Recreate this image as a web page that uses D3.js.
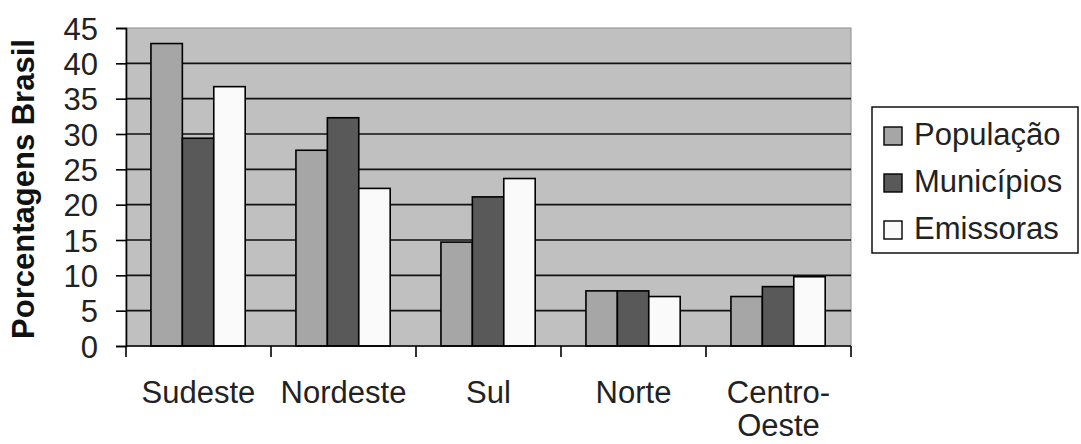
<!DOCTYPE html>
<html><head><meta charset="utf-8">
<script src="https://cdn.jsdelivr.net/npm/d3@7"></script>
<style>
html,body{margin:0;padding:0;background:#fff;}
svg{display:block;font-family:"Liberation Sans",Arial,sans-serif;}
</style></head>
<body><svg id="chart" width="1081" height="444"></svg>
<script>
const categories = ["Sudeste","Nordeste","Sul","Norte","Centro-Oeste"];
const categoryLines = [["Sudeste"],["Nordeste"],["Sul"],["Norte"],["Centro-","Oeste"]];
const seriesNames = ["População","Municípios","Emissoras"];
const populacao = [42.8, 27.7, 14.7, 7.8, 7.0];
const municipios = [29.4, 32.3, 21.1, 7.8, 8.4];
const emissoras = [36.7, 22.3, 23.7, 7.0, 9.8];
const yTicks = [0,5,10,15,20,25,30,35,40,45];
const yTitle = "Porcentagens Brasil";

const seriesValues = [populacao, municipios, emissoras];
const colors = ["#a6a6a6","#595959","#fafafa"];
const FS = 31;

const svg = d3.select("#chart");
const L = 126, R = 851, T = 28, B = 346;

const x0 = d3.scaleBand().domain(categories).range([L, R]).padding(0);
const bw = x0.bandwidth();
const x1 = d3.scaleBand().domain(seriesNames).range([bw*0.172, bw*0.822]).padding(0);
const y = d3.scaleLinear().domain([0,45]).range([B, T]);

// plot background
svg.append("rect").attr("x", L).attr("y", T).attr("width", R-L).attr("height", B-T)
  .attr("fill", "#c0c0c0").attr("stroke", "#9a9a9a").attr("stroke-width", 1.2);

// gridlines
svg.append("g").selectAll("line").data(yTicks.filter(d => d > 0 && d < 45)).join("line")
  .attr("x1", L).attr("x2", R).attr("y1", d => y(d)).attr("y2", d => y(d))
  .attr("stroke", "#111").attr("stroke-width", 1.6);

// bars
const rows = categories.map((c,i) => ({cat: c, vals: seriesNames.map((s,j) => ({s, j, v: seriesValues[j][i]}))}));
const g = svg.append("g").selectAll("g").data(rows).join("g")
  .attr("transform", d => `translate(${x0(d.cat)},0)`);
g.selectAll("rect").data(d => d.vals).join("rect")
  .attr("x", d => x1(d.s)).attr("width", x1.bandwidth())
  .attr("y", d => y(d.v)).attr("height", d => B - y(d.v))
  .attr("fill", d => colors[d.j]).attr("stroke", "#000").attr("stroke-width", 1.6);

// y axis
const yAxis = d3.axisLeft(y).tickValues(yTicks).tickSize(10).tickPadding(18);
const ya = svg.append("g").attr("transform", `translate(${L},0)`).call(yAxis);
ya.select(".domain").attr("stroke", "#000").attr("stroke-width", 1.6);
ya.selectAll(".tick line").attr("stroke", "#000").attr("stroke-width", 1.6);
ya.selectAll(".tick text").attr("font-size", FS).attr("fill", "#222")
  .attr("font-family", "Liberation Sans, Arial, sans-serif").attr("dy", "0.36em");

// x axis
const xa = svg.append("g").attr("transform", `translate(0,${B})`);
xa.append("line").attr("x1", L).attr("x2", R).attr("y1", 0).attr("y2", 0)
  .attr("stroke", "#000").attr("stroke-width", 1.6);
const bounds = categories.map(c => x0(c)).concat([R]);
xa.selectAll("line.tk").data(bounds).join("line").attr("class","tk")
  .attr("x1", d => d).attr("x2", d => d).attr("y1", 0).attr("y2", 11)
  .attr("stroke", "#000").attr("stroke-width", 1.6);
const labels = xa.selectAll("text").data(categories).join("text")
  .attr("x", d => x0(d) + bw/2).attr("y", 57)
  .attr("text-anchor", "middle").attr("font-size", FS).attr("fill", "#222");
labels.each(function(d, i) {
  const t = d3.select(this);
  categoryLines[i].forEach((ln, k) => {
    t.append("tspan").attr("x", x0(d) + bw/2).attr("dy", k === 0 ? 0 : 33).text(ln);
  });
});

// y title
svg.append("text").attr("transform", `translate(34,${(T+B)/2 + 2}) rotate(-90)`)
  .attr("text-anchor", "middle").attr("font-size", FS).attr("font-weight", "bold")
  .attr("fill", "#111").text(yTitle);

// legend
const lg = svg.append("g");
lg.append("rect").attr("x", 872).attr("y", 107).attr("width", 206).attr("height", 146)
  .attr("fill", "#fff").attr("stroke", "#111").attr("stroke-width", 1.5);
const li = lg.selectAll("g").data(seriesNames).join("g")
  .attr("transform", (d,i) => `translate(0,${145 + i*47})`);
li.append("rect").attr("x", 884).attr("y", -18).attr("width", 18).attr("height", 18)
  .attr("fill", (d,i) => colors[i]).attr("stroke", "#000").attr("stroke-width", 1.4);
li.append("text").attr("x", 914).attr("y", 0).attr("font-size", FS).attr("fill", "#222").text(d => d);
</script></body></html>
